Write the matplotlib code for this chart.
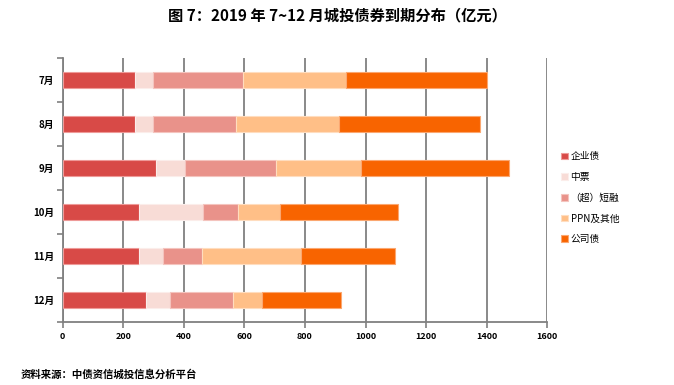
import matplotlib.pyplot as plt
import numpy as np

plt.rcParams['font.family'] = ['Noto Sans CJK SC', 'DejaVu Sans']

months = ['7月', '8月', '9月', '10月', '11月', '12月']
series_names = ['企业债', '中票', '（超）短融', 'PPN及其他', '公司债']
qiye = [239, 239, 308, 252, 253, 275]
zhongpiao = [58, 58, 97, 211, 78, 78]
duanrong = [298, 274, 299, 116, 129, 209]
ppn = [340, 341, 282, 139, 326, 95]
gongsi = [465, 467, 487, 390, 311, 261]
colors = ['#D84A47', '#F8DCD6', '#E9928A', '#FFBF87', '#F86400']
edges = ['#EE9A98', '#FBEDEA', '#F4C4BE', '#FFDDBF', '#FBA770']

fig = plt.figure(figsize=(6.74, 3.85), dpi=100)
ax = fig.add_axes([0.093, 0.164, 0.719, 0.686])

y = np.arange(len(months))
left = np.zeros(len(months))
for vals, name, c, ec in zip([qiye, zhongpiao, duanrong, ppn, gongsi], series_names, colors, edges):
    ax.barh(y, vals, left=left, height=0.36, color=c, edgecolor=ec, linewidth=0.8, label=name, zorder=3)
    left = left + np.array(vals)

ax.set_xlim(0, 1600)
ax.set_ylim(len(months) - 0.5, -0.5)
ax.set_xticks(range(0, 1601, 200))
ax.set_yticks(y)
ax.set_yticklabels(months, fontsize=7, fontweight='bold')
ax.set_yticks(np.arange(-0.5, len(months), 1), minor=True)
ax.tick_params(axis='y', which='major', length=0, pad=6)
ax.tick_params(axis='y', which='minor', length=4, color='#808080', width=1.2)
ax.tick_params(axis='x', length=4, color='#808080', width=1.2, labelsize=6.5)
for lab in ax.get_xticklabels():
    lab.set_fontweight('bold')
ax.grid(axis='x', color='#808080', linewidth=1.3, zorder=0)
for s in ['top', 'right']:
    ax.spines[s].set_visible(False)
for s in ['left', 'bottom']:
    ax.spines[s].set_color('#808080')
    ax.spines[s].set_linewidth(1.3)

leg = ax.legend(loc='center left', bbox_to_anchor=(1.01, 0.47), frameon=False,
                fontsize=7, handlelength=0.7, handleheight=0.7, labelspacing=1.1,
                handletextpad=0.3)

fig.text(0.5, 0.96, '图 7：2019 年 7~12 月城投债券到期分布（亿元）', ha='center', va='center',
         fontsize=11, fontweight='bold')
fig.text(0.03, 0.028, '资料来源：中债资信城投信息分析平台', ha='left', va='center',
         fontsize=7.5, fontweight='bold')

fig.savefig('out.png', dpi=100)
